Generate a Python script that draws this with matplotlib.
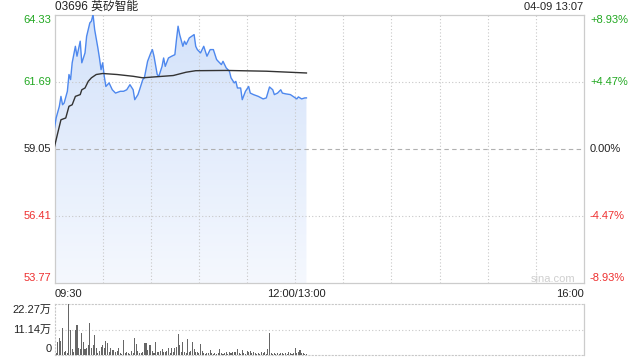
import numpy as np
import matplotlib
matplotlib.use('Agg')
import matplotlib.pyplot as plt
from matplotlib.patches import Polygon

plt.rcParams['font.family'] = ['Liberation Sans', 'Noto Sans CJK SC', 'DejaVu Sans']

# minutes since 09:30 (12:00 and 13:00 share minute 150)
price_minutes = [0, 1, 3, 4, 5, 6, 8, 9, 10, 11, 13, 14, 16, 17, 19, 20, 22, 23, 24, 25,
                 27, 28, 29, 30, 31, 32, 34, 36, 38, 41, 43, 45, 47, 49, 50, 52, 53, 55, 56, 58,
                 60, 61, 62, 64, 65, 67, 68, 69, 71, 73, 75, 76, 77, 78, 80, 81, 82, 84, 87, 88,
                 89, 91, 93, 95, 97, 99, 101, 102, 104, 105, 107, 109, 110, 112, 113, 114, 116, 117, 119, 121,
                 122, 124, 127, 130, 132, 134, 136, 137, 139, 141, 142, 144, 147, 151, 152, 154, 156, 157]
prices = [59.87, 60.26, 60.72, 61.11, 60.78, 60.85, 61.31, 61.97, 61.77, 62.43, 63.08, 62.69, 63.28, 62.43, 62.82, 63.47, 64.00, 64.07, 64.33, 63.74,
          63.02, 62.62, 62.16, 62.43, 61.90, 61.50, 61.64, 61.37, 61.24, 61.31, 61.31, 61.37, 61.57, 61.37, 60.98, 61.18, 61.37, 61.77, 61.84, 62.49,
          62.82, 62.95, 62.69, 61.97, 61.90, 62.29, 62.62, 62.29, 62.62, 62.69, 62.75, 63.34, 63.87, 63.54, 63.08, 63.28, 63.15, 63.41, 63.54, 63.08,
          62.95, 62.82, 63.08, 62.69, 62.95, 62.95, 62.56, 62.49, 62.36, 62.49, 62.23, 62.10, 61.84, 61.64, 61.70, 61.44, 61.44, 60.98, 61.31, 61.50,
          61.24, 61.18, 61.11, 61.01, 61.05, 61.48, 61.37, 61.18, 61.24, 61.37, 61.24, 61.21, 61.18, 61.01, 61.09, 61.01, 61.05, 61.05]

avg_minutes = [0, 2, 4, 7, 9, 11, 13, 16, 17, 19, 21, 23, 26, 30, 39, 49, 55, 61, 74, 82, 88, 107, 132, 157]
avg_prices = [59.14, 59.67, 60.19, 60.26, 60.72, 60.78, 61.11, 61.18, 61.37, 61.44, 61.70, 61.84, 61.97, 62.01,
              61.97, 61.90, 61.84, 61.87, 61.93, 62.06, 62.12, 62.13, 62.10, 62.03]

# volume per minute, unit 万 shares
volumes = [14.1, 1.0, 5.6, 7.4, 6.2, 11.9, 1.2, 1.8, 1.0, 22.27, 11.1, 2.7, 1.5, 11.1, 13.1, 3.0, 2.7, 9.6, 5.6, 2.7,
           3.3, 4.5, 14.1, 3.3, 4.2, 8.6, 3.3, 1.0, 1.8, 3.7, 4.5, 3.3, 6.2, 5.2, 1.5, 3.0, 2.2, 2.2, 1.2, 1.8,
           3.0, 0.7, 0.5, 6.7, 0.7, 1.5, 0.7, 0.5, 1.8, 0.7, 7.7, 4.8, 1.8, 0.7, 0.7, 1.2, 5.2, 5.2, 2.2, 4.2,
           4.5, 1.8, 1.0, 5.6, 1.5, 1.2, 1.8, 2.7, 1.2, 1.5, 1.8, 3.0, 1.0, 3.3, 1.5, 3.3, 3.7, 9.2, 4.5, 1.5,
           5.6, 1.2, 1.0, 7.1, 1.5, 1.8, 5.6, 2.7, 1.2, 1.5, 1.0, 4.8, 1.8, 0.7, 0.5, 0.7, 0.7, 2.1, 0.7, 0.5,
           0.7, 0.5, 0.7, 2.7, 0.7, 0.5, 0.7, 1.2, 0.5, 1.2, 0.7, 1.2, 1.2, 1.5, 2.7, 0.7, 0.5, 2.1, 0.7, 0.5,
           1.8, 1.2, 1.8, 0.7, 1.5, 0.7, 0.5, 0.7, 0.5, 1.5, 0.7, 1.2, 0.5, 2.7, 9.6, 0.7, 0.5, 0.7, 0.5, 0.7,
           0.5, 0.7, 0.7, 0.5, 0.7, 0.5, 1.2, 0.7, 0.5, 1.0, 3.3, 0.7, 1.5, 2.2, 0.7, 1.0, 0.5, 0.5]

prev_close = 59.05
price_ticks = [64.33, 61.69, 59.05, 56.41, 53.77]
pct_labels = ['+8.93%', '+4.47%', '0.00%', '-4.47%', '-8.93%']
vol_ticks = [22.27, 11.14, 0]
vol_labels = ['22.27万', '11.14万', '0']

GREEN = '#21a821'
RED = '#ee3030'
GRID = '#c8c8c8'

fig = plt.figure(figsize=(6.4, 3.6), dpi=100)
ax = fig.add_axes([0.0852, 0.2139, 0.8273, 0.7458])
axv = fig.add_axes([0.0852, 0.0139, 0.8273, 0.1403])

# price panel
ax.set_xlim(0, 330)
ax.set_ylim(price_ticks[-1], price_ticks[0])

poly = Polygon(list(zip(price_minutes, prices)) + [(price_minutes[-1], price_ticks[-1]), (0, price_ticks[-1])],
               closed=True, facecolor='none', edgecolor='none')
ax.add_patch(poly)
grad = np.linspace(1, 0, 256).reshape(-1, 1)
cmap = matplotlib.colors.LinearSegmentedColormap.from_list('f', ['#f5f8fe', '#d3e2fa'])
im = ax.imshow(grad, cmap=cmap, aspect='auto', origin='upper',
               extent=[0, price_minutes[-1], price_ticks[-1], max(prices)], zorder=1)
im.set_clip_path(poly)

# grid sits over the fill, under the lines
for m in range(30, 330, 30):
    ax.axvline(m, color=GRID, lw=0.8, ls=(0, (1, 2)), zorder=2)
for p in price_ticks[1:-1]:
    if p == prev_close:
        ax.axhline(p, color='#b0b0b0', lw=0.8, ls=(0, (4, 3)), zorder=2)
    else:
        ax.axhline(p, color=GRID, lw=0.8, ls=(0, (1, 2)), zorder=2)

ax.plot(price_minutes, prices, color='#4e88ee', lw=1.0, zorder=3)
ax.plot(avg_minutes, avg_prices, color='#333333', lw=1.0, zorder=4)

ax.set_xticks([])
ax.set_yticks([])
for s in ax.spines.values():
    s.set_color('#cccccc')
    s.set_linewidth(0.9)

colors = [GREEN, GREEN, '#222222', RED, RED]
offsets = [-5, 0, 0, 0, 5]
for p, lab, pct, c, off in zip(price_ticks, [f'{v:.2f}' for v in price_ticks], pct_labels, colors, offsets):
    ax.annotate(lab, xy=(0, p), xycoords=('axes fraction', 'data'), xytext=(-3, off),
                textcoords='offset pixels', ha='right', va='center', fontsize=8, color=c)
    ax.annotate(pct, xy=(1, p), xycoords=('axes fraction', 'data'), xytext=(6, off),
                textcoords='offset pixels', ha='left', va='center', fontsize=8, color=c)

fig.text(55 / 640, 1 - 7 / 360, '03696 英矽智能', ha='left', va='center', fontsize=8.5, color='#222222')
fig.text(583 / 640, 1 - 7 / 360, '04-09 13:07', ha='right', va='center', fontsize=8, color='#222222')
fig.text(55 / 640, 1 - 294 / 360, '09:30', ha='left', va='center', fontsize=8, color='#222222')
fig.text(296 / 640, 1 - 294 / 360, '12:00/13:00', ha='center', va='center', fontsize=8, color='#222222')
fig.text(584 / 640, 1 - 294 / 360, '16:00', ha='right', va='center', fontsize=8, color='#222222')
fig.text(553 / 640, 1 - 279 / 360, 'sina.com', ha='center', va='center', fontsize=8, color='#cfcfcf')

# volume panel
axv.set_xlim(0, 330)
axv.set_ylim(0, vol_ticks[0])
axv.bar(range(len(volumes)), volumes, width=0.65, color='#666666', zorder=3)
axv.axhline(vol_ticks[1], color=GRID, lw=0.8, ls=(0, (1, 2)), zorder=0)
axv.set_xticks([])
axv.set_yticks([])
for side in ['top', 'bottom', 'left']:
    axv.spines[side].set_color(GRID)
    axv.spines[side].set_linestyle((0, (1, 2)))
    axv.spines[side].set_linewidth(0.8)
axv.spines['right'].set_color('#cccccc')
axv.spines['right'].set_linewidth(0.9)

for v, lab, off in zip(vol_ticks, vol_labels, [-5, 0, 6]):
    axv.annotate(lab, xy=(0, v), xycoords=('axes fraction', 'data'), xytext=(-3, off),
                 textcoords='offset pixels', ha='right', va='center', fontsize=8, color='#222222')

fig.savefig('out.png', dpi=100)
